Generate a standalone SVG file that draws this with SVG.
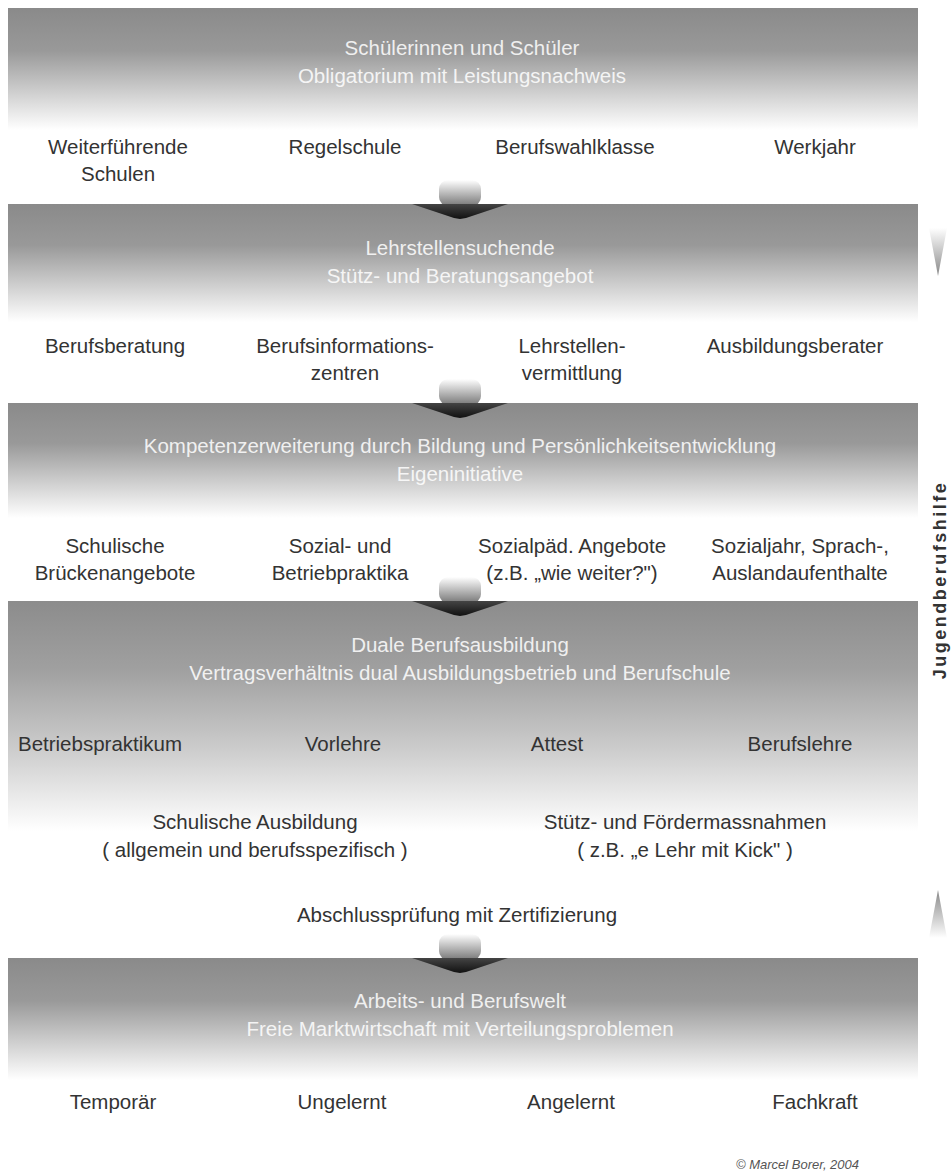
<svg xmlns="http://www.w3.org/2000/svg" width="952" height="1176" viewBox="0 0 952 1176">
<style>
.lbl{font-family:"Liberation Sans",Arial,sans-serif;font-size:20.5px;fill:#333;text-anchor:middle}
.hdr{font-family:"Liberation Sans",Arial,sans-serif;font-size:20.5px;fill:#ffffff;text-anchor:middle;opacity:0.85}
.side{font-family:"Liberation Sans",Arial,sans-serif;font-size:18px;font-weight:bold;fill:#333;text-anchor:middle;letter-spacing:2.5px}
.copy{font-family:"Liberation Sans",Arial,sans-serif;font-size:13px;font-style:italic;fill:#555}
</style>
<defs>
<linearGradient id="band" x1="0" y1="0" x2="0" y2="1">
<stop offset="0" stop-color="#8a8a8a"/>
<stop offset="0.35" stop-color="#999"/>
<stop offset="0.7" stop-color="#d0d0d0"/>
<stop offset="1" stop-color="#fff"/>
</linearGradient>
<linearGradient id="bandLong" x1="0" y1="0" x2="0" y2="1">
<stop offset="0" stop-color="#8c8c8c"/>
<stop offset="0.3" stop-color="#a0a0a0"/>
<stop offset="0.65" stop-color="#cdcdcd"/>
<stop offset="1" stop-color="#fff"/>
</linearGradient>
<linearGradient id="blob" x1="0" y1="0" x2="0" y2="1">
<stop offset="0" stop-color="#fff"/>
<stop offset="1" stop-color="#777"/>
</linearGradient>
<linearGradient id="tip" x1="0" y1="0" x2="0" y2="1">
<stop offset="0" stop-color="#444"/>
<stop offset="1" stop-color="#111"/>
</linearGradient>
<linearGradient id="sideDown" x1="0" y1="0" x2="0" y2="1">
<stop offset="0" stop-color="#fff"/>
<stop offset="1" stop-color="#888"/>
</linearGradient>
<linearGradient id="sideUp" x1="0" y1="1" x2="0" y2="0">
<stop offset="0" stop-color="#fff"/>
<stop offset="1" stop-color="#888"/>
</linearGradient>
<g id="arrow">
<rect x="-21" y="-24" width="42" height="26" rx="9" fill="url(#blob)"/>
<path d="M-48,0 L48,0 L6,14 L0,15 L-6,14 Z" fill="url(#tip)"/>
</g>
</defs>
<rect width="952" height="1176" fill="#fff"/>

<g id="band1">
<rect x="8" y="8" width="910" height="122" fill="url(#band)"/>
<text class="hdr" x="462" y="55">Schülerinnen und Schüler</text>
<text class="hdr" x="462" y="83">Obligatorium mit Leistungsnachweis</text>
</g>
<g id="row1">
<text class="lbl" x="118" y="154">Weiterführende</text>
<text class="lbl" x="118" y="181">Schulen</text>
<text class="lbl" x="345" y="154">Regelschule</text>
<text class="lbl" x="575" y="154">Berufswahlklasse</text>
<text class="lbl" x="815" y="154">Werkjahr</text>
</g>

<g id="band2">
<rect x="8" y="204" width="910" height="118" fill="url(#band)"/>
<text class="hdr" x="460" y="255">Lehrstellensuchende</text>
<text class="hdr" x="460" y="283">Stütz- und Beratungsangebot</text>
</g>
<g id="row2">
<text class="lbl" x="115" y="353">Berufsberatung</text>
<text class="lbl" x="345" y="353">Berufsinformations-</text>
<text class="lbl" x="345" y="380">zentren</text>
<text class="lbl" x="572" y="353">Lehrstellen-</text>
<text class="lbl" x="572" y="380">vermittlung</text>
<text class="lbl" x="795" y="353">Ausbildungsberater</text>
</g>

<g id="band3">
<rect x="8" y="403" width="910" height="115" fill="url(#band)"/>
<text class="hdr" x="460" y="453">Kompetenzerweiterung durch Bildung und Persönlichkeitsentwicklung</text>
<text class="hdr" x="460" y="481">Eigeninitiative</text>
</g>
<g id="row3">
<text class="lbl" x="115" y="553">Schulische</text>
<text class="lbl" x="115" y="580">Brückenangebote</text>
<text class="lbl" x="340" y="553">Sozial- und</text>
<text class="lbl" x="340" y="580">Betriebpraktika</text>
<text class="lbl" x="572" y="553">Sozialpäd. Angebote</text>
<text class="lbl" x="572" y="580">(z.B. „wie weiter?")</text>
<text class="lbl" x="800" y="553">Sozialjahr, Sprach-,</text>
<text class="lbl" x="800" y="580">Auslandaufenthalte</text>
</g>

<g id="band4">
<rect x="8" y="601" width="910" height="230" fill="url(#bandLong)"/>
<text class="hdr" x="460" y="652">Duale Berufsausbildung</text>
<text class="hdr" x="460" y="680">Vertragsverhältnis dual Ausbildungsbetrieb und Berufschule</text>
</g>
<g id="row4">
<text class="lbl" x="100" y="751">Betriebspraktikum</text>
<text class="lbl" x="343" y="751">Vorlehre</text>
<text class="lbl" x="557" y="751">Attest</text>
<text class="lbl" x="800" y="751">Berufslehre</text>
<text class="lbl" x="255" y="829">Schulische Ausbildung</text>
<text class="lbl" x="255" y="857">( allgemein und berufsspezifisch )</text>
<text class="lbl" x="685" y="829">Stütz- und Fördermassnahmen</text>
<text class="lbl" x="685" y="857">( z.B. „e Lehr mit Kick" )</text>
</g>
<g id="exam">
<text class="lbl" x="457" y="922">Abschlussprüfung mit Zertifizierung</text>
</g>

<g id="band5">
<rect x="8" y="958" width="910" height="122" fill="url(#band)"/>
<text class="hdr" x="460" y="1008">Arbeits- und Berufswelt</text>
<text class="hdr" x="460" y="1036">Freie Marktwirtschaft mit Verteilungsproblemen</text>
</g>
<g id="row6">
<text class="lbl" x="113" y="1109">Temporär</text>
<text class="lbl" x="342" y="1109">Ungelernt</text>
<text class="lbl" x="571" y="1109">Angelernt</text>
<text class="lbl" x="815" y="1109">Fachkraft</text>
</g>

<g id="connectors">
<use href="#arrow" x="460" y="204"/>
<use href="#arrow" x="460" y="403"/>
<use href="#arrow" x="460" y="601"/>
<use href="#arrow" x="460" y="958"/>
</g>

<g id="side">
<path d="M929,228 L947,228 L938,276 Z" fill="url(#sideDown)"/>
<text class="side" transform="translate(946,580) rotate(-90)">Jugendberufshilfe</text>
<path d="M929,938 L947,938 L938,890 Z" fill="url(#sideUp)"/>
</g>

<text class="copy" x="736" y="1169">© Marcel Borer, 2004</text>
</svg>
